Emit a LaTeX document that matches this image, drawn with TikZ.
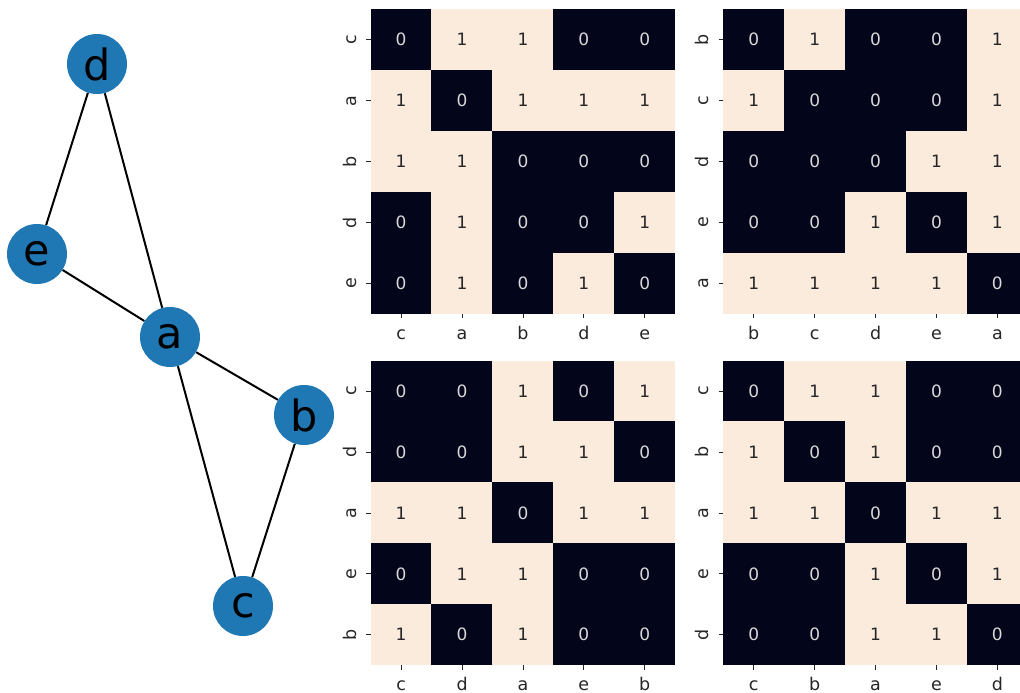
\documentclass[tikz,border=0pt]{standalone}
\usepackage{fontspec}
\setmainfont{DejaVu Sans}
\usetikzlibrary{backgrounds}
\definecolor{nodeblue}{HTML}{1F77B4}
\definecolor{hdark}{HTML}{03051A}
\definecolor{hlight}{HTML}{FAEBDD}
\definecolor{ticktxt}{HTML}{262626}
\tikzset{
  gnode/.style={circle, fill=nodeblue, minimum size=60pt, inner sep=0pt, font=\fontsize{43}{43}\selectfont},
  gedge/.style={line width=2pt, black},
  cellbase/.style={minimum width=61.2pt, minimum height=61.2pt, inner sep=0pt, outer sep=0pt, font=\fontsize{17}{17}\selectfont},
  cell0/.style={cellbase, fill=hdark, text=white!85!black},
  cell1/.style={cellbase, fill=hlight, text=ticktxt},
  ticklab/.style={font=\fontsize{17.5}{17.5}\selectfont, text=ticktxt, inner sep=0pt},
  tickmark/.style={line width=0.9pt, draw=ticktxt},
}
\newcommand{\hmap}[5]{%
  \foreach \rl/\vals [count=\r from 0] in {#5} {
    \foreach \v [count=\c from 0] in \vals {
      \node[cell\v] (#1-\r-\c) at ({#2+(\c+0.5)*60.9}, {#3+(\r+0.5)*60.9}) {\v};
    }
    \coordinate (#1-yt\r) at (#2, {#3+(\r+0.5)*60.9});
    \draw[tickmark] (#1-yt\r) -- ++(-4.5,0);
    \node[ticklab, rotate=90, anchor=base] (#1-yl\r) at ({#2-14.7}, {#3+(\r+0.5)*60.9}) {\rl};
  }
  \foreach \cl [count=\c from 0] in {#4} {
    \coordinate (#1-xt\c) at ({#2+(\c+0.5)*60.9}, {#3+304.5});
    \draw[tickmark] (#1-xt\c) -- ++(0,4.5);
    \node[ticklab, anchor=base] (#1-xl\c) at ({#2+(\c+0.5)*60.9}, {#3+329.7}) {\cl};
  }
}
\begin{document}
\begin{tikzpicture}[x=1pt, y=-1pt]
  \useasboundingbox (0,0) rectangle (1020,693);
  \clip (0,0) rectangle (1020,693);
  % graph
  \node[gnode] (d) at (97,64) {d};
  \node[gnode] (e) at (37,254) {e};
  \node[gnode] (a) at (170,337) {a};
  \node[gnode] (b) at (304,415) {b};
  \node[gnode] (c) at (243,606) {c};
  \begin{scope}[on background layer]
    \draw[gedge] (d) -- (e);
    \draw[gedge] (d) -- (a);
    \draw[gedge] (e) -- (a);
    \draw[gedge] (a) -- (b);
    \draw[gedge] (a) -- (c);
    \draw[gedge] (b) -- (c);
  \end{scope}
  % heatmaps
  \hmap{tl}{370.7}{9.3}{c,a,b,d,e}{c/{0,1,1,0,0}, a/{1,0,1,1,1}, b/{1,1,0,0,0}, d/{0,1,0,0,1}, e/{0,1,0,1,0}}
  \hmap{tr}{723.3}{9.3}{b,c,d,e,a}{b/{0,1,0,0,1}, c/{1,0,0,0,1}, d/{0,0,0,1,1}, e/{0,0,1,0,1}, a/{1,1,1,1,0}}
  \hmap{bl}{370.7}{360.7}{c,d,a,e,b}{c/{0,0,1,0,1}, d/{0,0,1,1,0}, a/{1,1,0,1,1}, e/{0,1,1,0,0}, b/{1,0,1,0,0}}
  \hmap{br}{723.3}{360.7}{c,b,a,e,d}{c/{0,1,1,0,0}, b/{1,0,1,0,0}, a/{1,1,0,1,1}, e/{0,0,1,0,1}, d/{0,0,1,1,0}}
\end{tikzpicture}
\end{document}
